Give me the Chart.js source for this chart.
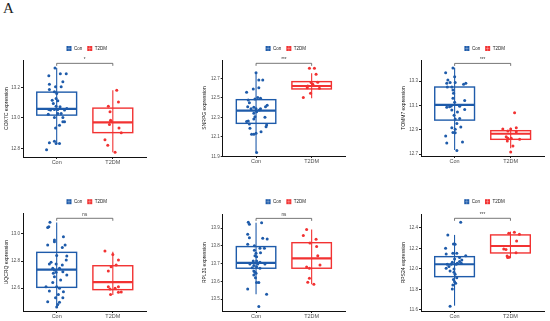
<!DOCTYPE html>
<html><head><meta charset="utf-8">
<script src="https://cdn.jsdelivr.net/npm/chart.js@4/dist/chart.umd.min.js"></script>
<style>
html,body{margin:0;padding:0;background:#fff}
body{width:550px;height:321px;position:relative;overflow:hidden}
canvas{position:absolute}
#lbl{position:absolute;left:3px;top:-1px;font-family:"Liberation Serif",serif;font-size:15px;line-height:18px;color:#222}
</style></head><body>
<div id="lbl">A</div>
<script>
// ---------- data ----------
const groups = ['Con', 'T2DM'];
const genes = ['COX7C', 'SNRPG', 'TOMM7', 'UQCRQ', 'RPL31', 'RPS24'];
const signif = ['*', '***', '***', 'ns', 'ns', '***'];

// COX7C
const cox7cCon = [13.327,13.277,13.290,13.290,13.237,13.220,13.204,13.204,13.187,13.171,13.160,13.127,13.116,13.112,13.095,13.077,13.073,13.055,13.051,13.055,13.055,13.062,13.051,13.024,13.029,13.029,13.002,13.002,12.974,12.974,12.952,12.934,12.837,12.846,12.831,12.831,12.791];
const cox7cConJitter = [-0.03,-0.14,0.065,0.17,0.11,-0.13,-0.02,0.08,-0.13,-0.04,0,-0.01,-0.08,0.02,-0.06,-0.01,0.06,-0.14,-0.11,-0.04,0.02,0.18,0.14,-0.15,0.02,0.08,0.11,-0.04,0.14,0.11,0.05,-0.02,-0.13,-0.04,-0.01,0.05,-0.18];
const cox7cT2dm = [13.182,13.105,13.077,13.040,12.985,12.978,12.956,12.934,12.903,12.857,12.820,12.774];
const cox7cT2dmJitter = [0.07,0.1,-0.08,-0.05,-0.04,-0.03,-0.06,0.11,0.15,-0.14,-0.09,0.04];
const cox7cConBox = [12.831,13.018,13.059,13.169,13.327];
const cox7cT2dmBox = [12.774,12.903,12.971,13.064,13.182];
const cox7cTicks = [12.8,13.0,13.2];
const cox7cRange = [12.743,13.380];
const cox7cBracket = 13.358;

// SNRPG
const snrpgCon = [12.758,12.683,12.683,12.604,12.556,12.591,12.502,12.495,12.488,12.478,12.450,12.409,12.403,12.389,12.389,12.389,12.358,12.375,12.409,12.423,12.341,12.307,12.300,12.283,12.262,12.256,12.232,12.221,12.204,12.187,12.153,12.126,12.126,12.136,11.938];
const snrpgConJitter = [0,0.05,0.12,0.05,-0.17,-0.05,0.03,0.08,-0.02,-0.14,-0.12,-0.15,-0.04,-0.09,0,0.08,0.01,0.06,0.17,0.2,-0.04,-0.02,0.16,-0.04,-0.14,-0.17,-0.12,0.19,0.18,-0.11,0.09,-0.08,-0.04,0,0.01];
const snrpgT2dm = [12.803,12.803,12.741,12.659,12.656,12.638,12.621,12.604,12.597,12.546,12.502];
const snrpgT2dmJitter = [-0.04,0.05,0.08,0.11,-0.01,0.02,-0.07,-0.08,0.14,-0.02,-0.15];
const snrpgConBox = [11.938,12.238,12.368,12.481,12.758];
const snrpgT2dmBox = [12.495,12.591,12.621,12.666,12.751];
const snrpgTicks = [11.9,12.1,12.3,12.5,12.7];
const snrpgRange = [11.903,12.888];
const snrpgBracket = 12.854;

// TOMM7
const tomm7Con = [13.407,13.368,13.336,13.308,13.289,13.281,13.289,13.281,13.251,13.251,13.273,13.226,13.199,13.158,13.141,13.125,13.084,13.089,13.095,13.092,13.067,13.062,13.045,13.018,12.988,12.993,12.952,12.916,12.922,12.903,12.878,12.875,12.848,12.799,12.790,12.730];
const tomm7ConJitter = [-0.03,-0.16,0,-0.12,-0.08,-0.14,0.01,0.2,-0.13,-0.05,0.16,-0.03,-0.02,-0.03,0.18,0,-0.14,-0.09,-0.06,0.09,0.18,-0.05,0.05,-0.01,0.01,0.09,0.04,-0.05,0.11,0.01,-0.03,0.01,-0.16,0.14,-0.14,0.04];
const tomm7T2dm = [13.040,12.905,12.905,12.916,12.889,12.884,12.842,12.829,12.829,12.821,12.807,12.766,12.716];
const tomm7T2dmJitter = [0.07,-0.14,0,0.1,-0.05,0.1,-0.08,-0.05,0.01,0.16,-0.06,0.04,0];
const tomm7ConBox = [12.733,12.979,13.105,13.251,13.410];
const tomm7T2dmBox = [12.747,12.821,12.867,12.892,12.916];
const tomm7Ticks = [12.7,12.9,13.1,13.3];
const tomm7Range = [12.684,13.473];
const tomm7Bracket = 13.445;

// UQCRQ
const uqcrqCon = [13.086,13.054,13.047,12.956,12.980,12.943,12.919,12.919,12.899,12.840,12.837,12.807,12.790,12.778,12.778,12.770,12.746,12.746,12.733,12.716,12.709,12.696,12.721,12.659,12.684,12.610,12.640,12.610,12.598,12.578,12.573,12.553,12.528,12.528,12.494,12.499,12.479,12.459];
const uqcrqConJitter = [-0.12,-0.14,-0.16,-0.04,0.12,-0.04,-0.16,0.15,0.1,0,0.18,0.17,-0.1,-0.13,-0.01,0.1,0.05,-0.07,-0.04,-0.01,-0.06,0.18,0.11,0.07,-0.04,-0.19,-0.07,0,0.05,-0.13,0.12,0.03,-0.02,0.11,0.05,-0.16,0.02,0];
const uqcrqT2dm = [12.874,12.849,12.807,12.758,12.770,12.726,12.610,12.610,12.593,12.598,12.570,12.568,12.553];
const uqcrqT2dmJitter = [-0.14,0,0.1,-0.03,0.06,-0.08,0.1,-0.08,-0.05,0.04,0.15,0.1,-0.04];
const uqcrqConBox = [12.454,12.605,12.736,12.864,13.084];
const uqcrqT2dmBox = [12.548,12.588,12.644,12.765,12.869];
const uqcrqTicks = [12.6,12.8,13.0];
const uqcrqRange = [12.430,13.153];
const uqcrqBracket = 13.116;

// RPL31
const rpl31Con = [13.933,13.922,13.931,13.865,13.846,13.843,13.839,13.809,13.801,13.786,13.786,13.775,13.758,13.762,13.745,13.739,13.715,13.715,13.708,13.698,13.698,13.689,13.683,13.698,13.677,13.674,13.659,13.651,13.646,13.636,13.621,13.593,13.593,13.557,13.527,13.458];
const rpl31ConJitter = [-0.14,-0.12,0.1,-0.15,-0.12,0.12,0.2,-0.15,-0.03,0.07,0.15,-0.03,0,0.08,-0.02,0.01,-0.05,0.01,0.07,-0.11,0.03,-0.04,0.01,0.16,-0.07,0.07,-0.04,-0.02,0,-0.04,-0.01,0.01,0.05,-0.15,0.19,0.05];
const rpl31T2dm = [13.892,13.858,13.837,13.816,13.796,13.745,13.692,13.681,13.674,13.617,13.595,13.584];
const rpl31T2dmJitter = [-0.09,-0.15,0.08,-0.03,0.09,0.11,0.15,-0.09,-0.04,-0.04,-0.07,0.04];
const rpl31ConBox = [13.527,13.674,13.704,13.796,13.931];
const rpl31T2dmBox = [13.584,13.674,13.730,13.818,13.893];
const rpl31Ticks = [13.5,13.6,13.7,13.8,13.9];
const rpl31Range = [13.433,13.978];
const rpl31Bracket = 13.955;

// RPS24
const rps24Con = [12.455,12.332,12.244,12.241,12.202,12.146,12.153,12.153,12.130,12.111,12.098,12.088,12.072,12.065,12.055,12.055,12.046,12.046,12.046,12.023,12.007,12.000,11.980,11.967,11.948,11.915,11.896,11.876,11.860,11.844,11.805,11.636];
const rps24ConJitter = [0.11,-0.12,-0.02,0.01,-0.16,-0.15,-0.03,0.04,0.2,0.09,0,0.13,0.09,-0.04,0.05,0.12,-0.13,-0.06,0.03,-0.1,-0.15,-0.01,-0.08,-0.01,0.01,0.04,-0.02,0,0.02,-0.03,-0.04,-0.08];
const rps24T2dm = [12.348,12.358,12.338,12.273,12.195,12.189,12.159,12.127,12.114,12.111];
const rps24T2dmJitter = [-0.03,0.07,0.16,0.11,-0.12,-0.08,0.1,-0.06,-0.02,-0.05];
const rps24ConBox = [11.642,11.925,12.046,12.120,12.332];
const rps24T2dmBox = [12.111,12.156,12.224,12.332,12.364];
const rps24Ticks = [11.6,11.8,12.0,12.2,12.4];
const rps24Range = [11.590,12.533];
const rps24Bracket = 12.494;

// ---------- assembly ----------
const panelData = [
  [cox7cCon, cox7cConJitter, cox7cT2dm, cox7cT2dmJitter, cox7cConBox, cox7cT2dmBox, cox7cTicks, cox7cRange, cox7cBracket],
  [snrpgCon, snrpgConJitter, snrpgT2dm, snrpgT2dmJitter, snrpgConBox, snrpgT2dmBox, snrpgTicks, snrpgRange, snrpgBracket],
  [tomm7Con, tomm7ConJitter, tomm7T2dm, tomm7T2dmJitter, tomm7ConBox, tomm7T2dmBox, tomm7Ticks, tomm7Range, tomm7Bracket],
  [uqcrqCon, uqcrqConJitter, uqcrqT2dm, uqcrqT2dmJitter, uqcrqConBox, uqcrqT2dmBox, uqcrqTicks, uqcrqRange, uqcrqBracket],
  [rpl31Con, rpl31ConJitter, rpl31T2dm, rpl31T2dmJitter, rpl31ConBox, rpl31T2dmBox, rpl31Ticks, rpl31Range, rpl31Bracket],
  [rps24Con, rps24ConJitter, rps24T2dm, rps24T2dmJitter, rps24ConBox, rps24T2dmBox, rps24Ticks, rps24Range, rps24Bracket]
];

// layout (pixels)
const layoutGeom = [
  {left:0,   top:30,  w:175, h:145, x0:23,    x1:146.5, yTop:60,    yBot:157, titleX:6.7,   legY:48.5},
  {left:175, top:30,  w:185, h:145, x0:222.7, x1:345,   yTop:60,    yBot:156, titleX:205,   legY:48.5},
  {left:360, top:30,  w:190, h:145, x0:421,   x1:544.3, yTop:60,    yBot:156, titleX:403.3, legY:48.5},
  {left:0,   top:180, w:175, h:141, x0:23,    x1:146.5, yTop:213.3, yBot:311, titleX:6.7,   legY:201.7},
  {left:175, top:180, w:185, h:141, x0:222.7, x1:345,   yTop:214.3, yBot:311, titleX:205,   legY:201.7},
  {left:360, top:180, w:190, h:141, x0:421,   x1:544,   yTop:214.3, yBot:311, titleX:403.3, legY:201.7}
];

const COLORS = ['#1E5BAA', '#F23232'];
const FONT = '"Liberation Sans", Arial, sans-serif';
const BOX_HALF = 0.355;

const boxPlugin = {
  id: 'boxes',
  beforeDatasetsDraw(chart, args, opts) {
    const {ctx, scales: {x, y}} = chart;
    ctx.save();
    opts.boxes.forEach((b, i) => {
      const cx = x.getPixelForValue(i + 1);
      const xl = x.getPixelForValue(i + 1 - BOX_HALF);
      const xr = x.getPixelForValue(i + 1 + BOX_HALF);
      const [lo, q1, med, q3, hi] = b.map(v => y.getPixelForValue(v));
      ctx.strokeStyle = COLORS[i];
      ctx.lineWidth = 1.1;
      ctx.beginPath(); ctx.moveTo(cx, lo); ctx.lineTo(cx, hi); ctx.stroke();
      ctx.lineWidth = 1.4;
      ctx.strokeRect(xl, q3, xr - xl, q1 - q3);
      ctx.lineWidth = 2.2;
      ctx.beginPath(); ctx.moveTo(xl, med); ctx.lineTo(xr, med); ctx.stroke();
    });
    ctx.restore();
  },
  afterDraw(chart, args, opts) {
    const {ctx, scales: {x, y}, chartArea: ca} = chart;
    ctx.save();
    // significance bracket
    const by = y.getPixelForValue(opts.bracket);
    const bx1 = x.getPixelForValue(1), bx2 = x.getPixelForValue(2);
    ctx.strokeStyle = '#555'; ctx.lineWidth = 0.8;
    ctx.beginPath();
    ctx.moveTo(bx1, by + 2.5); ctx.lineTo(bx1, by); ctx.lineTo(bx2, by); ctx.lineTo(bx2, by + 2.5);
    ctx.stroke();
    ctx.fillStyle = '#333';
    ctx.font = '4.5px ' + FONT;
    ctx.textAlign = 'center'; ctx.textBaseline = 'bottom';
    ctx.fillText(opts.label, (bx1 + bx2) / 2, by - 1);
    // legend
    ctx.font = '4.5px ' + FONT;
    ctx.textAlign = 'left'; ctx.textBaseline = 'middle';
    const icon = 5, gap = 2.5, sep = 5;
    const widths = groups.map(g => ctx.measureText(g).width);
    let total = 0;
    widths.forEach(w => total += icon + gap + w);
    total += sep * (groups.length - 1);
    let lx = (ca.left + ca.right) / 2 - total / 2 + 2;
    const ly = opts.legY;
    groups.forEach((g, i) => {
      ctx.fillStyle = COLORS[i];
      ctx.fillRect(lx, ly - 2.5, icon, icon);
      ctx.strokeStyle = 'rgba(255,255,255,0.55)'; ctx.lineWidth = 0.5;
      ctx.beginPath();
      ctx.moveTo(lx + 2.5, ly - 2.5); ctx.lineTo(lx + 2.5, ly + 2.5);
      ctx.moveTo(lx + 0.8, ly); ctx.lineTo(lx + 4.2, ly);
      ctx.stroke();
      lx += icon + gap;
      ctx.fillStyle = '#222';
      ctx.fillText(g, lx, ly + 0.3);
      lx += widths[i] + sep;
    });
    ctx.restore();
  }
};

panelData.forEach((pd, k) => {
  const [con, conJ, t2, t2J, conBox, t2Box, ticks, range, bracket] = pd;
  const g = layoutGeom[k];
  const cv = document.createElement('canvas');
  cv.width = g.w; cv.height = g.h;
  cv.style.left = g.left + 'px'; cv.style.top = g.top + 'px';
  cv.style.width = g.w + 'px'; cv.style.height = g.h + 'px';
  document.body.appendChild(cv);
  const titleFont = {family: FONT, size: 5};
  new Chart(cv, {
    type: 'scatter',
    data: {
      datasets: [
        {label: groups[0], data: con.map((v, i) => ({x: 1 + conJ[i], y: v})),
         backgroundColor: COLORS[0], borderColor: COLORS[0], pointRadius: 1.5, pointBorderWidth: 0},
        {label: groups[1], data: t2.map((v, i) => ({x: 2 + t2J[i], y: v})),
         backgroundColor: COLORS[1], borderColor: COLORS[1], pointRadius: 1.5, pointBorderWidth: 0}
      ]
    },
    options: {
      responsive: false, animation: false, devicePixelRatio: 1,
      layout: {padding: {left: 0, top: g.yTop - g.top, right: g.left + g.w - g.x1, bottom: 0}},
      plugins: {
        legend: {display: false}, tooltip: {enabled: false},
        boxes: {boxes: [conBox, t2Box], bracket: bracket, label: signif[k], legY: g.legY - g.top}
      },
      scales: {
        x: {
          type: 'linear', min: 0.4, max: 2.6,
          afterBuildTicks: s => { s.ticks = [{value: 1}, {value: 2}]; },
          afterFit: s => { s.height = g.top + g.h - g.yBot; },
          ticks: {callback: v => groups[Math.round(v) - 1], font: {family: FONT, size: 5.5}, color: '#4d4d4d', padding: 0, autoSkip: false, maxRotation: 0},
          grid: {display: true, drawOnChartArea: false, drawTicks: true, tickLength: 2, color: '#222'},
          border: {display: true, color: '#111', width: 1}
        },
        y: {
          min: range[0], max: range[1],
          afterBuildTicks: s => { s.ticks = ticks.map(v => ({value: v})); },
          afterFit: s => { s.width = g.x0 - g.left; },
          ticks: {callback: v => Number(v).toFixed(1), font: {family: FONT, size: 4.5}, color: '#4d4d4d', padding: 1, autoSkip: false},
          grid: {display: true, drawOnChartArea: false, drawTicks: true, tickLength: 2, color: '#222'},
          border: {display: true, color: '#111', width: 1},
          title: {display: true, text: genes[k] + ' expression', font: titleFont, color: '#111', padding: {top: g.titleX - g.left - 3, bottom: 0}}
        }
      }
    },
    plugins: [boxPlugin]
  });
});
</script>
</body></html>
